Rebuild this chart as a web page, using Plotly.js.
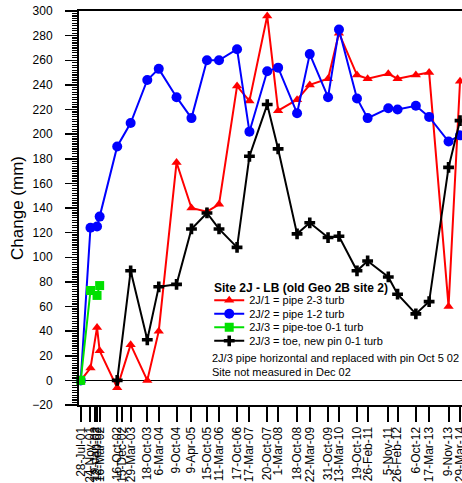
<!DOCTYPE html>
<html>
<head>
<meta charset="utf-8">
<script src="https://cdn.plot.ly/plotly-3.0.1.min.js"></script>
<style>html,body{margin:0;padding:0;background:#fff;}#chart{width:462px;height:483px;}</style>
</head>
<body>
<div id="chart"></div>
<script>
// Measurement dates
var dates = ["2001-07-28","2001-11-24","2002-02-12","2002-03-16","2002-10-16","2003-03-29",
  "2003-10-18","2004-03-06","2004-10-09","2005-04-09","2005-10-15","2006-03-11","2006-10-17",
  "2007-03-17","2007-10-20","2008-03-01","2008-10-18","2009-03-22","2009-10-31","2010-03-13",
  "2010-10-19","2011-02-26","2011-11-05","2012-02-26","2012-10-06","2013-03-17","2013-11-09","2014-03-29"];
// Series values (mm)
var pipe23 = [0,10,43,24,-6,29,0,40,177,140,137,143,239,227,296,219,228,240,245,282,248,245,249,245,248,250,60,243];
var pipe12 = [0,124,125,133,190,209,244,253,230,213,260,260,269,202,251,254,217,265,230,285,229,213,221,220,223,214,194,199];
var pipeToe01 = [0,73,69,77,null,null,null,null,null,null,null,null,null,null,null,null,null,null,null,null,null,null,null,null,null,null,null,null];
var toePin01 = [null,null,null,null,0,89,33,76,78,123,136,123,108,182,224,188,119,128,116,117,89,97,84,70,54,64,173,211];
var seriesNames = ["2J/1 = pipe 2-3 turb","2J/2 = pipe 1-2 turb","2J/3 = pipe-toe 0-1 turb","2J/3 = toe, new pin 0-1 turb"];
// Tick dates and labels
var tickDates = ["2001-07-28","2001-11-24","2002-01-19","2002-02-12","2002-03-16","2002-10-16","2002-12-15",
  "2003-03-29","2003-10-18","2004-03-06","2004-10-09","2005-04-09","2005-10-15","2006-03-11","2006-10-17",
  "2007-03-17","2007-10-20","2008-03-01","2008-10-18","2009-03-22","2009-10-31","2010-03-13","2010-10-19",
  "2011-02-26","2011-11-05","2012-02-26","2012-10-06","2013-03-17","2013-11-09","2014-03-29"];
var tickLabels = ["28-Jul-01","24-Nov-01","19-Jan-02","12-Feb-02","16-Mar-02","16-Oct-02","15-Dec-02",
  "29-Mar-03","18-Oct-03","6-Mar-04","9-Oct-04","9-Apr-05","15-Oct-05","11-Mar-06","17-Oct-06",
  "17-Mar-07","20-Oct-07","1-Mar-08","18-Oct-08","22-Mar-09","31-Oct-09","13-Mar-10","19-Oct-10",
  "26-Feb-11","5-Nov-11","26-Feb-12","6-Oct-12","17-Mar-13","9-Nov-13","29-Mar-14"];
var chartTitle = "Site 2J - LB (old Geo 2B site 2)";
var noteText = "2J/3 pipe horizontal and replaced with pin Oct 5 02<br>Site not measured in Dec 02";

var FONT = "Liberation Sans, Arial, sans-serif";
function tr(y, name, color, symbol, size, leg){
  return {x: dates, y: y, name: name, type: "scatter", mode: "lines+markers",
    line: {color: color, width: 2}, marker: {color: color, symbol: symbol, size: size},
    legend: leg, connectgaps: false, cliponaxis: false};
}
var data = [
  tr(pipe23, seriesNames[0], "#ff0000", "triangle-up", 9, "legend"),
  tr(pipe12, seriesNames[1], "#0000ff", "circle", 10, "legend2"),
  tr(pipeToe01, seriesNames[2], "#00e000", "square", 9, "legend3"),
  tr(toePin01, seriesNames[3], "#000000", "cross", 9, "legend4")
];
function leg(y){
  return {x: 0.34, y: y, xanchor: "left", yanchor: "middle", bgcolor: "rgba(0,0,0,0)",
    font: {family: FONT, size: 11, color: "#000"}, borderwidth: 0, tracegroupgap: 0};
}
var layout = {
  width: 462, height: 483,
  margin: {l: 79, r: 0, t: 11, b: 78},
  paper_bgcolor: "#fff", plot_bgcolor: "#fff",
  font: {family: FONT, size: 12, color: "#000"},
  showlegend: true,
  legend: leg(0.266), legend2: leg(0.2318), legend3: leg(0.1975), legend4: leg(0.163),
  xaxis: {
    type: "date", range: ["2001-07-07", "2014-04-22"],
    tickmode: "array", tickvals: tickDates, ticktext: tickLabels, tickangle: -90,
    ticks: "outside", ticklen: 15, tickwidth: 2, tickcolor: "#000",
    ticklabeloverflow: "allow",
    showline: true, linewidth: 2, linecolor: "#000", mirror: true,
    showgrid: false, zeroline: false,
    tickfont: {family: FONT, size: 12, color: "#000"}
  },
  yaxis: {
    range: [-20, 300], tickmode: "linear", tick0: 0, dtick: 20,
    ticks: "outside", ticklen: 12, tickwidth: 1.5, tickcolor: "#000",
    minor: {dtick: 2, ticks: "outside", ticklen: 5, tickwidth: 1.2, tickcolor: "#000", showgrid: false},
    showline: true, linewidth: 2, linecolor: "#000",
    showgrid: false, zeroline: true, zerolinecolor: "#000", zerolinewidth: 1.5,
    ticklabelstandoff: 10,
    tickfont: {family: FONT, size: 12, color: "#000"},
    title: {text: "Change (mm)", font: {family: FONT, size: 17, color: "#000"}, standoff: 4}
  },
  annotations: [
    {text: "<b>" + chartTitle + "</b>", xref: "paper", yref: "paper", x: 0.348, y: 0.298,
     xanchor: "left", yanchor: "middle", showarrow: false, font: {family: FONT, size: 12, color: "#000"}},
    {text: noteText, xref: "paper", yref: "paper", x: 0.342, y: 0.101, align: "left",
     xanchor: "left", yanchor: "middle", showarrow: false, font: {family: FONT, size: 11, color: "#000"}}
  ]
};
Plotly.newPlot("chart", data, layout, {displayModeBar: false, staticPlot: true});
</script>
</body>
</html>
